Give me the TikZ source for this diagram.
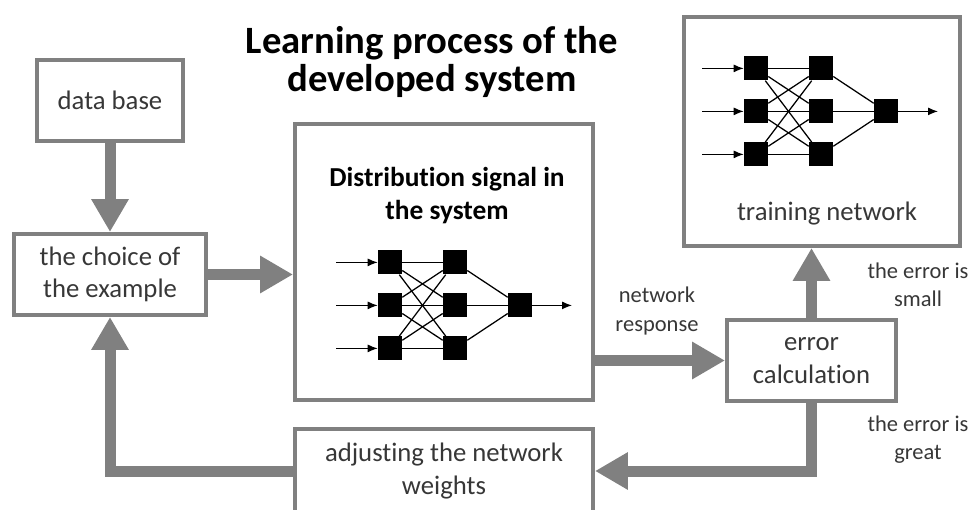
\documentclass[tikz,border=0pt]{standalone}
\usepackage{fontspec}
\setmainfont{Carlito}[Ligatures={NoCommon}]
\usepackage{tikz}
\usetikzlibrary{arrows,arrows.meta,calc}
\definecolor{boxgray}{RGB}{128,128,128}
\definecolor{textgray}{RGB}{55,55,55}

\begin{document}
\begin{tikzpicture}[>={Latex[length=0.25cm,width=0.2cm]}]
\tikzstyle{every node}=[font=\fontsize{19}{23}\selectfont,align=center,text=textgray]
\tikzstyle{box}=[draw=boxgray,line width=0.1cm,inner sep=0pt]
\tikzstyle{flow}=[draw=boxgray,line width=0.275cm,-{Triangle[length=0.82cm,width=0.88cm]}]
\tikzstyle{neuron}=[fill=black,minimum size=0.6cm,inner sep=0pt]
\tikzstyle{label}=[font=\fontsize{16}{20}\selectfont]
\clip (0,0) rectangle (24.275,12.725);

% title
\node[text=black,font=\bfseries\fontsize{27.5}{26.5}\selectfont] (title) at (10.8,11.175)
  {Learning process of the\\ developed system};

% boxes
\node[box,minimum width=3.65cm,minimum height=2.025cm] (dbase) at (2.75,10.2125) {data base};
\node[box,minimum width=4.8cm,minimum height=2.025cm] (choice) at (2.75,5.8625)
  {the choice of\\ the example};
\node[box,minimum width=7.45cm,minimum height=6.9cm] (dist) at (11.1,6.175) {};
\node[box,minimum width=6.9cm,minimum height=5.725cm] (train) at (20.55,9.4375) {};
\node[box,minimum width=4.225cm,minimum height=2.025cm,font=\fontsize{19}{24}\selectfont] (err) at (20.2875,3.7125)
  {error\\ calculation};
\node[box,minimum width=7.45cm,minimum height=2.1cm] (adj) at (11.1,0.95)
  {adjusting the network\\ weights};

% texts in the big boxes
\node[text=black,font=\bfseries\fontsize{19.5}{23.5}\selectfont] (disttext) at (11.175,7.825)
  {Distribution signal in\\ the system};
\node (traintext) at (20.675,7.375) {training network};

% small labels
\node[label] (resp) at (16.425,4.95) {network\\ response};
\node[label] (small) at (22.95,5.6) {the error is\\ small};
\node[label] (great) at (22.95,1.725) {the error is\\ great};

% the two small networks
\foreach \net/\x/\y in {d/9.75/5.09, t/18.9/9.94} {
  \foreach \i in {1,2,3} {
    \node[neuron] (\net-1-\i) at (\x,{\y+(2-\i)*1.075}) {};
    \node[neuron] (\net-2-\i) at (\x+1.625,{\y+(2-\i)*1.075}) {};
    \coordinate (\net-in-\i) at (\x-1.35,{\y+(2-\i)*1.075});
  }
  \node[neuron] (\net-o) at (\x+3.25,\y) {};
  \coordinate (\net-out) at (\x+4.55,\y);
  \foreach \i in {1,2,3} {
    \draw[line width=0.9pt,->] (\net-in-\i) -- (\net-1-\i);
    \draw[line width=0.9pt] (\net-2-\i) -- (\net-o);
    \foreach \j in {1,2,3}
      \draw[line width=0.9pt] (\net-1-\i) -- (\net-2-\j);
  }
  \draw[line width=0.9pt,->] (\net-o) -- (\net-out);
}

% flow arrows
\draw[flow] (dbase) -- (choice);
\draw[flow] (choice.east) -- (choice.east -| dist.west);
\draw[flow] (dist.east |- err.west) -- (err.west);
\draw[flow] (err.north) -- (err.north |- train.south);
\draw[flow] (err.south) |- (adj.east);
\draw[flow] (adj.west) -| (choice.south);
\end{tikzpicture}
\end{document}
